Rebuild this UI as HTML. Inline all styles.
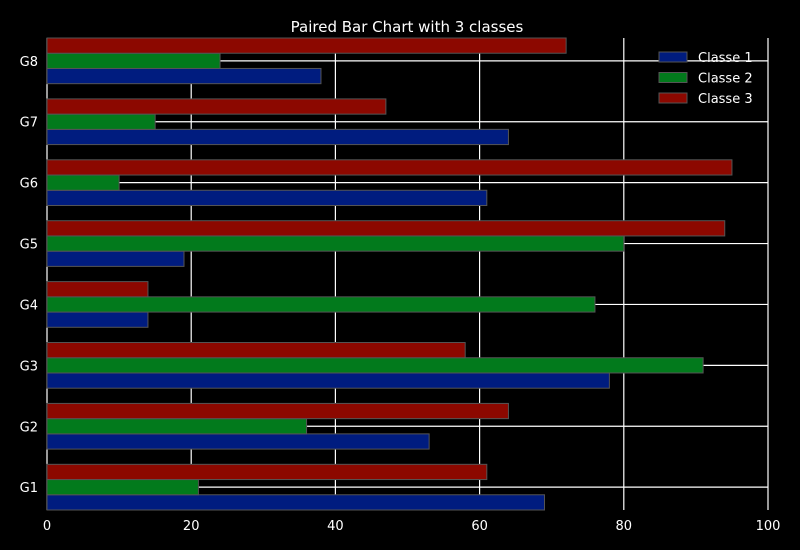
<!DOCTYPE html>
<html><head><meta charset="utf-8"><style>
html,body{margin:0;padding:0;background:#000;}
svg{display:block;font-family:"DejaVu Sans","Liberation Sans",sans-serif;}
</style></head><body>
<svg id="chart" width="800" height="550" viewBox="0 0 800 550" xmlns="http://www.w3.org/2000/svg">
<rect width="800" height="550" fill="#000"/>
<text x="407" y="32" fill="#fff" font-size="15" text-anchor="middle">Paired Bar Chart with 3 classes</text>
<g id="grid"></g><g id="bars"></g><g id="axes"></g><g id="legend"></g>
</svg>
<script>
const categories = ["G1","G2","G3","G4","G5","G6","G7","G8"];
const classe1 = [69,53,78,14,19,61,64,38];
const classe2 = [21,36,91,76,80,10,15,24];
const classe3 = [61,64,58,14,94,95,47,72];
const xTicks = [0,20,40,60,80,100];
const seriesNames = ["Classe 1","Classe 2","Classe 3"];
const colors = ["#001c7f","#027a1c","#8c0800"];

const NS="http://www.w3.org/2000/svg";
const L=47,R=768,T=38,B=510;
const n=categories.length;
const bh=(B-T)/(4*(n-1)+3); const step=4*bh;
const xs=v=>L+(R-L)*v/100;
const yc=i=>B-step*i-1.5*bh;
function mk(tag,attrs,parent){const e=document.createElementNS(NS,tag);for(const k in attrs)e.setAttribute(k,attrs[k]);parent.appendChild(e);return e;}
const grid=document.getElementById('grid'),bars=document.getElementById('bars'),axes=document.getElementById('axes'),legend=document.getElementById('legend');
xTicks.forEach(t=>{
  const ln=mk('line',{x1:xs(t),x2:xs(t),y1:T,y2:B,stroke:'#fff','stroke-width':1.2},grid);
  
  
  const tx=mk('text',{x:xs(t),y:530,fill:'#fff','font-size':13,'text-anchor':'middle'},axes);
  tx.textContent=t;
  
  
});
categories.forEach((c,i)=>{
  const y=yc(i);
  const ln=mk('line',{x1:L,x2:R,y1:y,y2:y,stroke:'#fff','stroke-width':1.2},grid);
  
  
  const tx=mk('text',{x:38,y:y+5,fill:'#fff','font-size':13,'text-anchor':'end'},axes);
  tx.textContent=c;
  
  
});
const series=[classe1,classe2,classe3];
series.forEach((s,k)=>{
  s.forEach((v,i)=>{
    const top=B-step*i-bh*(k+1);
    const r=mk('rect',{x:L,y:top,width:xs(v)-L,height:bh,fill:colors[k],stroke:'#555','stroke-width':1},bars);
    
    
  });
});
seriesNames.forEach((nm,k)=>{
  const y=52+k*20.5;
  const r=mk('rect',{x:659,y:y,width:28,height:10,fill:colors[k],stroke:'#555'},legend);
  
  
  const t=mk('text',{x:698,y:y+10,fill:'#fff','font-size':13},legend);
  t.textContent=nm;
  
  
});
</script>
</body></html>
